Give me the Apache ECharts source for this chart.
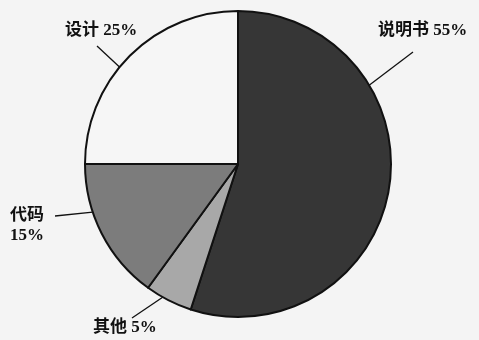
<!DOCTYPE html>
<html>
<head>
<meta charset="utf-8">
<script src="https://cdn.jsdelivr.net/npm/echarts@6/dist/echarts.min.js"></script>
<style>
html,body{margin:0;padding:0;background:#f4f4f4;}
#c{width:479px;height:340px;}
</style>
</head>
<body>
<div id="c"></div>
<script>
// Data
var categories = ['说明书', '其他', '代码', '设计'];
var values = [55, 5, 15, 25];
var labelTexts = ['说明书 55%', '其他 5%', '代码\n15%', '设计 25%'];

var colors = ['#363636', '#a8a8a8', '#7c7c7c', '#f6f6f6'];
var CX = 238, CY = 164, R = 153;

// label placement (top-left) and label-line anchors (angle clockwise from top, radius factor)
var labelPos = [[378, 21], [93, 318], [10, 206], [65, 21]];
var anchorAngle = [59, 209.5, 251.7, 309];
var anchorFactor = [1.0, 1.0, 1.0, 0.92];
var lineEndOffset = [[35, 31], [39, 0], [45, 10], [32, 25]];

function circlePoint(deg, f) {
  var a = deg * Math.PI / 180;
  return [CX + R * f * Math.sin(a), CY - R * f * Math.cos(a)];
}

var chart = echarts.init(document.getElementById('c'), null, {renderer: 'canvas'});
chart.setOption({
  backgroundColor: '#f4f4f4',
  animation: false,
  series: [{
    type: 'pie',
    center: [CX, CY],
    radius: [0, R],
    startAngle: 90,
    clockwise: true,
    avoidLabelOverlap: false,
    data: categories.map(function (c, i) {
      return {name: c, value: values[i], itemStyle: {color: colors[i]}};
    }),
    itemStyle: {borderColor: '#111', borderWidth: 2},
    label: {
      show: true,
      position: 'outside',
      formatter: function (p) { return labelTexts[p.dataIndex]; },
      fontFamily: "'Liberation Serif', 'Noto Sans CJK SC', serif",
      fontSize: 17,
      fontWeight: 'bold',
      lineHeight: 20,
      color: '#111'
    },
    labelLine: {show: true, lineStyle: {color: '#111', width: 1.3}},
    labelLayout: function (params) {
      var i = params.dataIndex;
      var p = labelPos[i];
      var s = circlePoint(anchorAngle[i], anchorFactor[i]);
      var e = [p[0] + lineEndOffset[i][0], p[1] + lineEndOffset[i][1]];
      return {
        x: p[0], y: p[1], align: 'left', verticalAlign: 'top',
        labelLinePoints: [s, e, e]
      };
    }
  }]
});
</script>
</body>
</html>
